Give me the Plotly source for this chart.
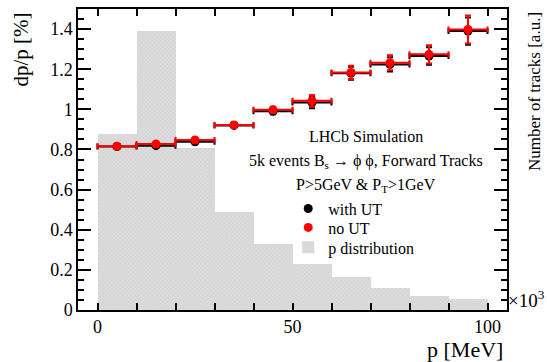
import plotly.graph_objects as go

# --- data -------------------------------------------------------------
p_centers = [5, 15, 25, 35, 45, 55, 65, 75, 85, 95]          # MeV, bin centres
p_halfwidth = [5, 5, 5, 5, 5, 5, 5, 5, 5, 5]                  # half bin width

# momentum resolution dp/p [%]
res_with_ut = [0.815, 0.819, 0.838, 0.920, 0.990, 1.034, 1.180, 1.224, 1.266, 1.390]
err_with_ut = [0.008, 0.010, 0.010, 0.012, 0.015, 0.028, 0.032, 0.036, 0.044, 0.068]
res_no_ut = [0.816, 0.827, 0.847, 0.922, 0.998, 1.043, 1.184, 1.232, 1.274, 1.398]
err_no_ut = [0.008, 0.010, 0.010, 0.012, 0.015, 0.029, 0.033, 0.037, 0.045, 0.070]

# track momentum distribution (x10^3 tracks, a.u.)
p_distribution = [0.875, 1.390, 0.807, 0.489, 0.328, 0.229, 0.166, 0.109, 0.070, 0.053]

FONT = "Liberation Serif"

fig = go.Figure()

# histogram lives on the base axis so it is drawn underneath the points
fig.add_trace(go.Bar(
    x=p_centers, y=p_distribution, width=[2 * w for w in p_halfwidth],
    marker=dict(color="#d4d4d4", line=dict(width=0),
                pattern=dict(shape="x", size=3, solidity=0.25,
                             fgcolor="#b8b8b8", bgcolor="#dcdcdc")),
    name="p distribution", legend="legend3", yaxis="y",
))

def points(y, err, color, name, legend):
    return go.Scatter(
        x=p_centers, y=y, mode="markers", name=name, legend=legend,
        yaxis="y2",
        marker=dict(color=color, size=9, symbol="circle"),
        error_x=dict(type="data", array=p_halfwidth, color=color, thickness=2, width=3),
        error_y=dict(type="data", array=err, color=color, thickness=2, width=3),
    )

fig.add_trace(points(res_with_ut, err_with_ut, "black", "with UT", "legend"))
fig.add_trace(points(res_no_ut, err_no_ut, "#ff0000", "no UT", "legend2"))

axis_common = dict(
    showgrid=False, zeroline=False, showline=True, linecolor="black", linewidth=1.5,
    ticks="inside", tickcolor="black", tickwidth=1.5,
)

def legend_at(y):
    return dict(
        x=0.49, y=y, xanchor="left", yanchor="middle",
        bgcolor="rgba(0,0,0,0)", font=dict(family=FONT, size=16, color="black"),
        itemwidth=30,
    )

fig.update_layout(
    width=547, height=362,
    margin=dict(l=78, r=40, t=7, b=52),
    paper_bgcolor="white", plot_bgcolor="white",
    font=dict(family=FONT, size=18, color="black"),
    bargap=0,
    xaxis=dict(
        **axis_common, range=[-5, 105], tickvals=[0, 50, 100], ticklen=7,
        minor=dict(dtick=10, ticklen=7, ticks="inside", tickcolor="black", tickwidth=1.5),
        mirror="ticks", tickfont=dict(size=18),
    ),
    yaxis=dict(
        **axis_common, side="right", range=[0, 1.5], dtick=0.2, ticklen=13,
        minor=dict(dtick=0.05, ticklen=6, ticks="inside", tickcolor="black", tickwidth=1.5),
        showticklabels=False,
    ),
    yaxis2=dict(
        **axis_common, side="left", overlaying="y", range=[0, 1.5], dtick=0.2, ticklen=13,
        minor=dict(dtick=0.05, ticklen=6, ticks="inside", tickcolor="black", tickwidth=1.5),
        tickfont=dict(size=18),
    ),
    legend=legend_at(0.337),
    legend2=legend_at(0.274),
    legend3=legend_at(0.208),
    showlegend=True,
)

ann = [
    dict(text="dp/p [%]", x=-0.135, y=0.995, textangle=-90, xanchor="center", yanchor="top",
         font=dict(size=21)),
    dict(text="Number of tracks [a.u.]", x=1.063, y=0.995, textangle=-90, xanchor="center",
         yanchor="top", font=dict(size=17)),
    dict(text="p [MeV]", x=0.995, y=-0.13, xanchor="right", yanchor="middle",
         font=dict(size=22)),
    dict(text="×10<sup>3</sup>", x=0.998, y=0.035, xanchor="left", yanchor="middle",
         font=dict(size=19)),
    dict(text="LHCb Simulation", x=0.671, y=0.578, xanchor="center", yanchor="middle",
         font=dict(size=16)),
    dict(text="5k events B<sub>s</sub> → ϕ ϕ, Forward Tracks", x=0.671, y=0.495,
         xanchor="center", yanchor="middle", font=dict(size=16)),
    dict(text="P>5GeV & P<sub>T</sub>>1GeV", x=0.671, y=0.413, xanchor="center",
         yanchor="middle", font=dict(size=16)),
]
for a in ann:
    a.update(xref="paper", yref="paper", showarrow=False)
    a["font"] = dict(family=FONT, color="black", **a["font"])
fig.update_layout(annotations=ann)

fig.write_html("out.html")
